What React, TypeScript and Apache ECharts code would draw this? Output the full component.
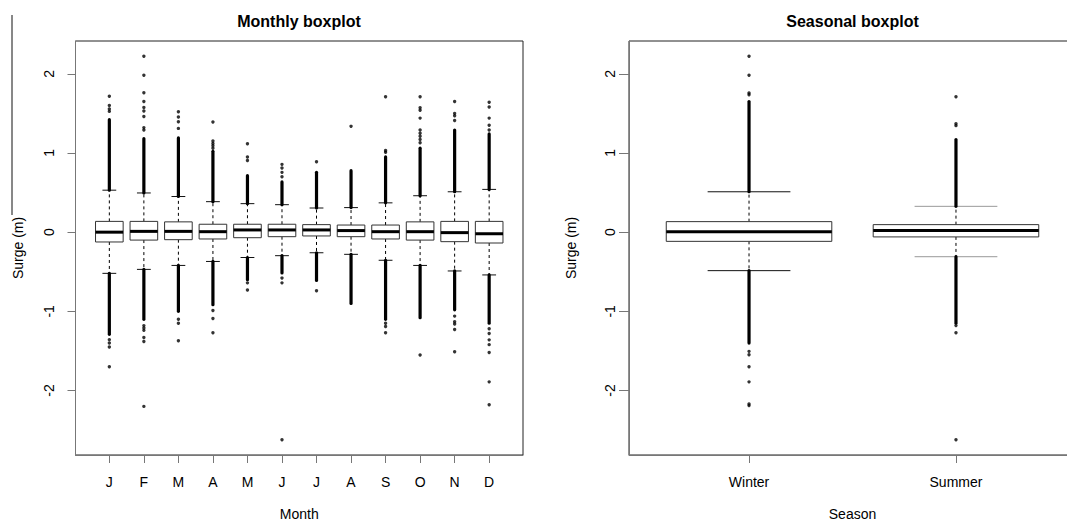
import React, { useEffect, useRef } from "react";
import * as echarts from "echarts";

// ---------- data ----------
const months = ["J", "F", "M", "A", "M", "J", "J", "A", "S", "O", "N", "D"];
const monthLowerWhisker = [-0.52, -0.47, -0.42, -0.37, -0.32, -0.297, -0.26, -0.28, -0.355, -0.42, -0.49, -0.54];
const monthQ1 = [-0.124, -0.1, -0.095, -0.086, -0.07, -0.057, -0.048, -0.057, -0.086, -0.1, -0.12, -0.137];
const monthMedian = [0.0, 0.01, 0.01, 0.006, 0.028, 0.028, 0.028, 0.02, 0.006, 0.006, -0.006, -0.02];
const monthQ3 = [0.136, 0.136, 0.13, 0.1, 0.1, 0.1, 0.095, 0.09, 0.09, 0.13, 0.136, 0.136];
const monthUpperWhisker = [0.53, 0.495, 0.45, 0.385, 0.36, 0.347, 0.305, 0.31, 0.37, 0.46, 0.51, 0.54];
// extent of the densely packed outlier runs beyond each whisker
const monthDenseUpperTo = [1.42, 1.18, 1.19, 1.02, 0.713, 0.634, 0.755, 0.776, 0.95, 1.06, 1.29, 1.24];
const monthDenseLowerTo = [-1.29, -1.1, -1.0, -0.915, -0.6, -0.515, -0.61, -0.9, -1.1, -1.08, -0.98, -1.15];
// isolated outliers
const monthOutliers = [
  [1.525, 1.555, 1.6, 1.715, -1.357, -1.4, -1.45, -1.7],
  [1.29, 1.32, 1.46, 1.53, 1.575, 1.65, 1.76, 1.98, 2.22, -1.18, -1.21, -1.24, -1.33, -1.38, -2.2],
  [1.31, 1.395, 1.455, 1.52, -1.1, -1.15, -1.37],
  [1.06, 1.09, 1.12, 1.15, 1.39, -0.99, -1.09, -1.27],
  [0.905, 0.95, 1.117, -0.64, -0.73],
  [0.7, 0.755, 0.81, 0.856, -0.58, -0.64, -2.62],
  [0.89, -0.74],
  [1.336],
  [1.01, 1.03, 1.71, -1.15, -1.19, -1.27],
  [1.13, 1.17, 1.21, 1.25, 1.29, 1.44, 1.54, 1.57, 1.71, -1.55],
  [1.41, 1.47, 1.5, 1.65, -1.06, -1.13, -1.16, -1.23, -1.51],
  [1.29, 1.35, 1.44, 1.58, 1.64, -1.22, -1.28, -1.36, -1.42, -1.52, -1.89, -2.18],
];

const seasons = ["Winter", "Summer"];
const seasonLowerWhisker = [-0.486, -0.31];
const seasonQ1 = [-0.116, -0.06];
const seasonMedian = [0.006, 0.02];
const seasonQ3 = [0.133, 0.095];
const seasonUpperWhisker = [0.51, 0.326];
const seasonDenseUpperTo = [1.65, 1.17];
const seasonDenseLowerTo = [-1.4, -1.15];
const seasonOutliers = [
  [1.736, 1.757, 1.98, 2.22, -1.505, -1.547, -1.7, -1.89, -2.17, -2.19],
  [1.345, 1.37, 1.71, -1.18, -1.27, -2.62],
];

const yTicks = [-2, -1, 0, 1, 2];

// ---------- helpers ----------
const FONT = "'Liberation Sans', Arial, Helvetica, sans-serif";

function boxData(lw: number[], q1: number[], med: number[], q3: number[], uw: number[]) {
  return lw.map((_, i) => [i + 1, lw[i], q1[i], med[i], q3[i], uw[i]]);
}
function bandData(lw: number[], uw: number[], lo: number[], hi: number[]) {
  const out: number[][] = [];
  lw.forEach((_, i) => {
    out.push([i + 1, uw[i], hi[i]]);
    out.push([i + 1, lw[i], lo[i]]);
  });
  return out;
}
function pointData(outl: number[][]) {
  const out: number[][] = [];
  outl.forEach((arr, i) => arr.forEach((v) => out.push([i + 1, v])));
  return out;
}

function makeBoxRenderer(stapleColors: string[]) {
  return (params: any, api: any) => {
    const x = api.value(0);
    const lw = api.value(1), q1 = api.value(2), med = api.value(3), q3 = api.value(4), uw = api.value(5);
    const c = (a: number, b: number) => api.coord([a, b]);
    const pTop = c(x, uw), pQ3 = c(x, q3), pQ1 = c(x, q1), pBot = c(x, lw);
    const sL = c(x - 0.2, uw)[0], sR = c(x + 0.2, uw)[0];
    const bL = c(x - 0.4, q3)[0], bR = c(x + 0.4, q3)[0];
    const pMed = c(x, med);
    const sc = stapleColors[params.dataIndex % stapleColors.length];
    return {
      type: "group",
      children: [
        { type: "line", shape: { x1: pQ3[0], y1: pQ3[1], x2: pTop[0], y2: pTop[1] }, style: { stroke: "#000", lineWidth: 1, lineDash: [3, 3] } },
        { type: "line", shape: { x1: pQ1[0], y1: pQ1[1], x2: pBot[0], y2: pBot[1] }, style: { stroke: "#000", lineWidth: 1, lineDash: [3, 3] } },
        { type: "line", shape: { x1: sL, y1: pTop[1], x2: sR, y2: pTop[1] }, style: { stroke: sc, lineWidth: 1 } },
        { type: "line", shape: { x1: sL, y1: pBot[1], x2: sR, y2: pBot[1] }, style: { stroke: sc, lineWidth: 1 } },
        { type: "rect", shape: { x: bL, y: pQ3[1], width: bR - bL, height: pQ1[1] - pQ3[1] }, style: { fill: "#fff", stroke: "#333", lineWidth: 1 } },
        { type: "line", shape: { x1: bL, y1: pMed[1], x2: bR, y2: pMed[1] }, style: { stroke: "#000", lineWidth: 3 } },
      ],
    };
  };
}

function renderBand(params: any, api: any) {
  const x = api.value(0);
  const a = api.coord([x, api.value(1)]);
  const b = api.coord([x, api.value(2)]);
  return {
    type: "line",
    shape: { x1: a[0], y1: a[1], x2: b[0], y2: b[1] },
    style: { stroke: "#000", lineWidth: 3.2, lineCap: "round" },
  };
}

const yMin = -2.8136;
const yMax = 2.4136;

function yAxisCfg(gridIndex: number, margin: number, tickLen: number, nameGap: number) {
  return {
    type: "value",
    gridIndex,
    min: yMin,
    max: yMax,
    name: "Surge (m)",
    nameLocation: "middle",
    nameRotate: 90,
    nameGap,
    nameTextStyle: { fontFamily: FONT, fontSize: 14, color: "#000" },
    axisLine: { show: true, onZero: false, lineStyle: { color: "#777", width: 1 } },
    axisTick: { show: true, length: tickLen, customValues: yTicks, lineStyle: { color: "#777" } },
    axisLabel: { customValues: yTicks, rotate: 90, margin, fontFamily: FONT, fontSize: 14, color: "#000" },
    splitLine: { show: false },
  };
}

function xAxisCfg(gridIndex: number, labels: string[], min: number, max: number, name: string) {
  const vals = labels.map((_, i) => i + 1);
  return {
    type: "value",
    gridIndex,
    min,
    max,
    name,
    nameLocation: "middle",
    nameGap: 52,
    nameTextStyle: { fontFamily: FONT, fontSize: 14, lineHeight: 14, color: "#000" },
    axisLine: { show: true, onZero: false, lineStyle: { color: "#777", width: 1 } },
    axisTick: { show: true, length: 8, customValues: vals, lineStyle: { color: "#777" } },
    axisLabel: {
      customValues: vals,
      margin: 20,
      fontFamily: FONT,
      fontSize: 14,
      color: "#000",
      formatter: (v: number) => labels[Math.round(v) - 1] ?? "",
    },
    splitLine: { show: false },
  };
}

export default function App() {
  const ref = useRef<HTMLDivElement>(null);
  useEffect(() => {
    if (!ref.current) return;
    const chart = echarts.init(ref.current, undefined, { renderer: "svg" });
    chart.setOption({
      animation: false,
      backgroundColor: "#fff",
      textStyle: { fontFamily: FONT },
      grid: [
        { left: 75.5, top: 41, width: 447.5, height: 414, outerBoundsMode: "none", containLabel: false, show: true, borderColor: "#222", borderWidth: 1, backgroundColor: "transparent" },
        { left: 629, top: 41, width: 447, height: 414, outerBoundsMode: "none", containLabel: false, show: true, borderColor: "#222", borderWidth: 1, backgroundColor: "transparent" },
      ],
      xAxis: [
        xAxisCfg(0, months, 0.02, 12.98, "Month"),
        xAxisCfg(1, seasons, 0.42, 2.58, "Season"),
      ],
      yAxis: [yAxisCfg(0, 20, 8, 51), yAxisCfg(1, 12, 10, 51)],
      graphic: [
        { type: "text", x: 299, y: 21, style: { text: "Monthly boxplot", font: `bold 16px ${FONT}`, fill: "#000", textAlign: "center", textVerticalAlign: "middle" } },
        { type: "text", x: 852.5, y: 21, style: { text: "Seasonal boxplot", font: `bold 16px ${FONT}`, fill: "#000", textAlign: "center", textVerticalAlign: "middle" } },
        { type: "line", shape: { x1: 12, y1: 15, x2: 12, y2: 215 }, style: { stroke: "#111", lineWidth: 1 } },
      ],
      series: [
        {
          type: "custom",
          xAxisIndex: 0,
          yAxisIndex: 0,
          renderItem: makeBoxRenderer(["#111"]),
          data: boxData(monthLowerWhisker, monthQ1, monthMedian, monthQ3, monthUpperWhisker),
          silent: true,
        },
        {
          type: "custom",
          xAxisIndex: 0,
          yAxisIndex: 0,
          renderItem: renderBand,
          data: bandData(monthLowerWhisker, monthUpperWhisker, monthDenseLowerTo, monthDenseUpperTo),
          silent: true,
        },
        {
          type: "scatter",
          xAxisIndex: 0,
          yAxisIndex: 0,
          symbol: "circle",
          symbolSize: 3.4,
          itemStyle: { color: "#000" },
          data: pointData(monthOutliers),
          silent: true,
        },
        {
          type: "custom",
          xAxisIndex: 1,
          yAxisIndex: 1,
          renderItem: makeBoxRenderer(["#111", "#999"]),
          data: boxData(seasonLowerWhisker, seasonQ1, seasonMedian, seasonQ3, seasonUpperWhisker),
          silent: true,
        },
        {
          type: "custom",
          xAxisIndex: 1,
          yAxisIndex: 1,
          renderItem: renderBand,
          data: bandData(seasonLowerWhisker, seasonUpperWhisker, seasonDenseLowerTo, seasonDenseUpperTo),
          silent: true,
        },
        {
          type: "scatter",
          xAxisIndex: 1,
          yAxisIndex: 1,
          symbol: "circle",
          symbolSize: 3.4,
          itemStyle: { color: "#000" },
          data: pointData(seasonOutliers),
          silent: true,
        },
      ],
    });
    return () => chart.dispose();
  }, []);
  return <div ref={ref} style={{ position: "absolute", left: 0, top: 0, width: 1067, height: 522 }} />;
}
